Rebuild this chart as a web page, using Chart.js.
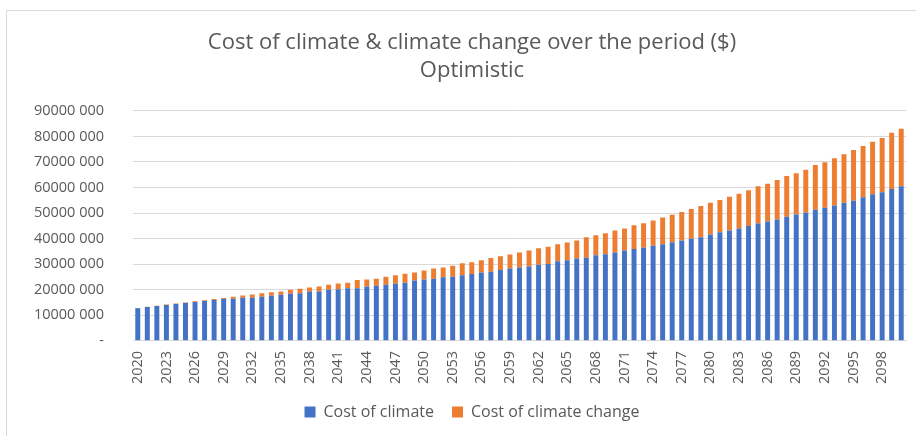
<!DOCTYPE html>
<html>
<head>
<meta charset="utf-8">
<script src="https://cdn.jsdelivr.net/npm/chart.js@4/dist/chart.umd.min.js"></script>
<style>
  body { margin: 0; background: #fff; overflow: hidden; }
  #wrap { position: relative; width: 916px; height: 436px; overflow: hidden; }
  #frame { position: absolute; left: 6px; top: 10px; width: 920px; height: 430px; border: 1px solid #d9d9d9; box-sizing: border-box; }
  #grafico { position: absolute; left: 0; top: 0; }
</style>
</head>
<body>
<div id="wrap">
  <div id="frame"></div>
  <canvas id="grafico" width="947" height="436"></canvas>
</div>
<script>
// Anos 2020 - 2100
var years = [];
for (var y = 2020; y <= 2100; y++) years.push(String(y));

// Custo do clima ($)
var costClimate = [
  12800000, 13200000, 13600000, 14000000, 14400000, 14800000, 15200000, 15600000, 16000000, 16400000,
  16500000, 16900000, 16900000, 17300000, 17600000, 18000000, 18400000, 18600000, 19300000, 19300000,
  20000000, 20200000, 20600000, 20600000, 21300000, 21600000, 22000000, 22300000, 22700000, 23600000,
  24000000, 24300000, 24900000, 25100000, 25700000, 26200000, 26700000, 27000000, 27700000, 28300000,
  28700000, 29100000, 29800000, 30100000, 31100000, 31500000, 32200000, 32500000, 33500000, 33900000,
  34600000, 35400000, 35900000, 36400000, 37200000, 37800000, 38600000, 39300000, 40000000, 40500000,
  41600000, 42500000, 43200000, 44000000, 44900000, 45900000, 46700000, 47500000, 48600000, 49400000,
  50100000, 51300000, 52100000, 53000000, 54000000, 54800000, 56200000, 57400000, 58200000, 59400000,
  60500000
];

// Custo da mudança climática ($)
var costClimateChange = [
  50000, 100000, 150000, 200000, 200000, 250000, 300000, 300000, 350000, 400000,
  800000, 800000, 1200000, 1300000, 1400000, 1300000, 1600000, 1800000, 1600000, 2000000,
  2000000, 2200000, 2100000, 3200000, 2700000, 2700000, 3100000, 3400000, 3600000, 3100000,
  3500000, 4000000, 3800000, 4300000, 4700000, 4600000, 4800000, 5400000, 5400000, 5500000,
  5900000, 6300000, 6400000, 6700000, 6700000, 7000000, 7100000, 8000000, 7800000, 8200000,
  8600000, 8600000, 9300000, 9600000, 9900000, 10500000, 10700000, 11100000, 11600000, 12300000,
  12400000, 12600000, 13200000, 13600000, 14000000, 14600000, 14800000, 15400000, 15900000, 16200000,
  16900000, 17500000, 17800000, 18500000, 19000000, 19900000, 20100000, 20500000, 21200000, 22000000,
  22500000
];

var yMax = 90000000;
var yStep = 10000000;

var textColor = '#595959';

var data = {
  labels: years,
  datasets: [{
    label: 'Cost of climate',
    backgroundColor: '#4472C4',
    data: costClimate
  }, {
    label: 'Cost of climate change',
    backgroundColor: '#ED7D31',
    data: costClimateChange
  }]
};

// formato "90000 000", zero como "-"
function fmt(v) {
  if (v === 0) return '-';
  return Math.floor(v / 1000) + ' ' + String(v % 1000).padStart(3, '0');
}

var options = {
  responsive: false,
  animation: false,
  layout: { padding: { left: 7, right: 10, top: 4, bottom: 6 } },
  datasets: {
    bar: { categoryPercentage: 1, barPercentage: 0.52, borderWidth: 0 }
  },
  plugins: {
    title: {
      display: true,
      text: ['Cost of climate & climate change over the period ($)', 'Optimistic'],
      color: textColor,
      font: { family: 'Open Sans', size: 22, weight: 'normal', lineHeight: 1.27 },
      padding: { top: 25, bottom: 26 }
    },
    legend: {
      position: 'bottom',
      labels: {
        color: textColor,
        font: { family: 'Open Sans', size: 16 },
        boxWidth: 11, boxHeight: 11,
        padding: 18
      }
    },
    tooltip: { enabled: false }
  },
  scales: {
    x: {
      stacked: true,
      grid: { display: false },
      border: { color: '#d9d9d9' },
      ticks: {
        color: textColor,
        font: { family: 'Open Sans', size: 14.5 },
        autoSkip: false,
        maxRotation: 90, minRotation: 90,
        padding: 2,
        callback: function (v, i) { return i % 3 === 0 ? this.getLabelForValue(v) : ''; }
      }
    },
    y: {
      stacked: true,
      min: 0, max: yMax,
      grid: { color: '#d9d9d9', drawTicks: false },
      border: { display: false },
      afterFit: function (scale) { scale.width = 126; },
      ticks: {
        stepSize: yStep,
        color: textColor,
        font: { family: 'Open Sans', size: 14.5 },
        padding: 29,
        callback: function (v) { return fmt(v); }
      }
    },
    // eixo vazio à direita, só reserva espaço
    yRight: {
      position: 'right',
      grid: { display: false },
      border: { display: false },
      ticks: { display: false },
      afterFit: function (scale) { scale.width = 31; }
    }
  }
};

// espera a fonte antes de medir os rótulos
document.fonts.load('16px "Open Sans"').then(function () {
  var ctx = document.querySelector('#grafico');
  new Chart(ctx, {
    type: 'bar',
    data: data,
    options: options
  });
});
</script>
</body>
</html>
